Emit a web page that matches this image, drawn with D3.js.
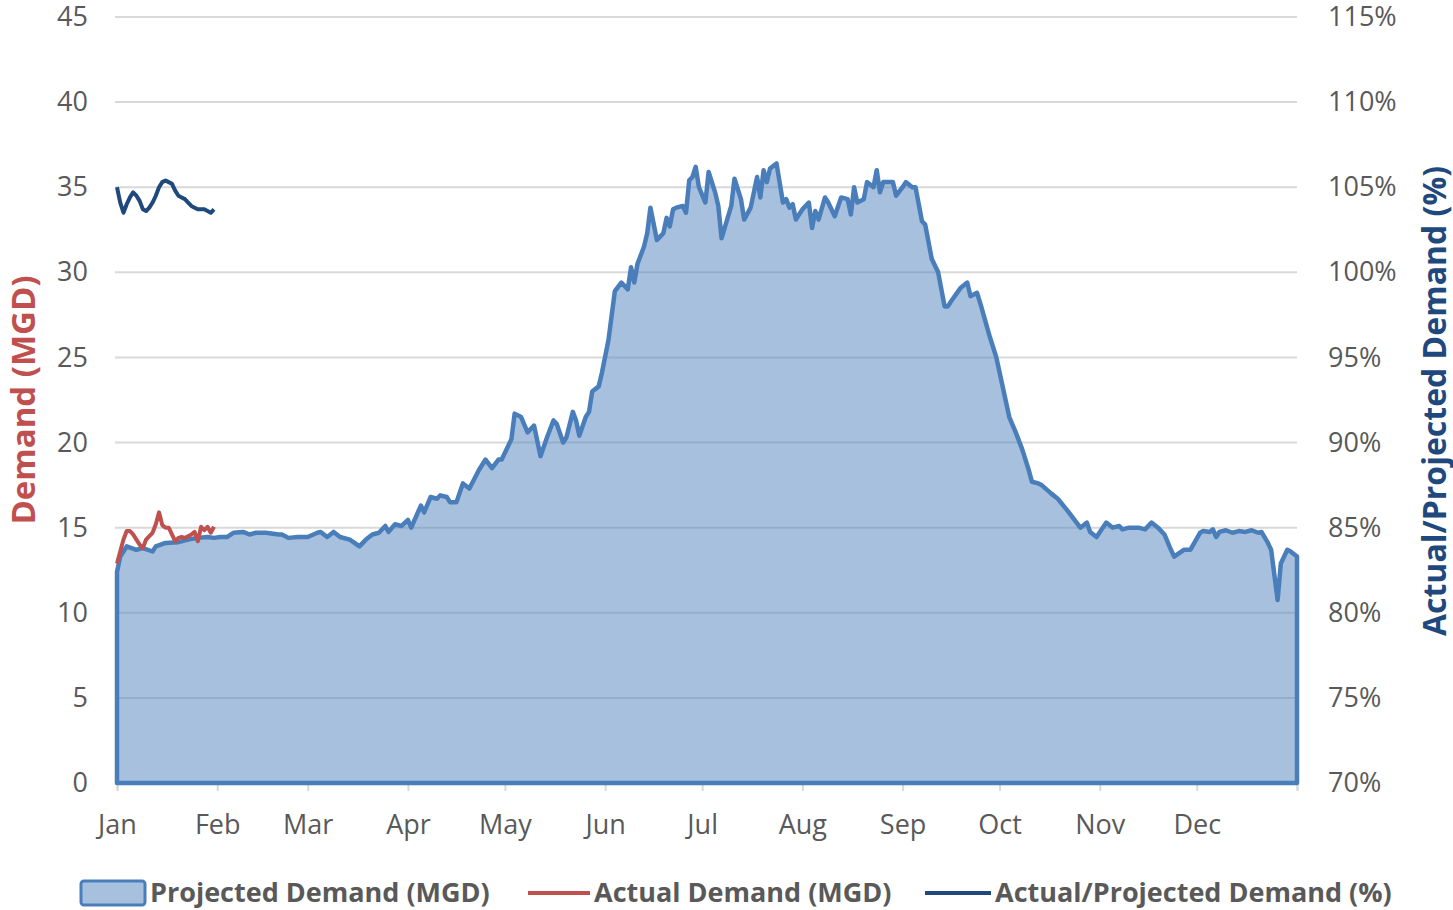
<!DOCTYPE html>
<html>
<head>
<meta charset="utf-8">
<script src="https://cdn.jsdelivr.net/npm/d3@7"></script>
<style>
  body { margin: 0; background: #fff; }
  svg text { font-family: "Open Sans", sans-serif; }
</style>
</head>
<body>
<svg id="chart" width="1453" height="910"></svg>
<script>
// month starts (day of year) and labels
var monthDays = [0, 31, 59, 90, 120, 151, 181, 212, 243, 273, 304, 334, 365];
var monthNames = ["Jan", "Feb", "Mar", "Apr", "May", "Jun", "Jul", "Aug", "Sep", "Oct", "Nov", "Dec"];

// projected demand (MGD), day of year / value
var projDay = [0, 1, 2, 3, 6, 8, 11, 12, 15, 19, 22, 25, 28, 30, 32, 34, 36, 39, 41, 43, 46, 50, 51, 53, 56, 59,
  62, 63, 65, 67, 69, 72, 75, 77, 79, 81, 83, 84, 86, 88, 90, 91, 94, 95, 97, 99, 100, 102, 103, 105, 107, 109,
  112, 114, 116, 118, 119, 122, 123, 125, 127, 129, 131, 133, 135, 136, 138, 139, 141, 142, 143, 145, 146, 147,
  149, 150, 152, 154, 156, 158, 159, 160, 161, 163, 164, 165, 167, 168, 169, 170, 171, 172, 173, 175, 176, 177,
  178, 179, 180, 182, 183, 185, 186, 187, 190, 191, 193, 194, 196, 198, 199, 200, 201, 202, 204, 206, 207, 208,
  209, 210, 212, 214, 215, 216, 217, 219, 220, 222, 224, 226, 227, 228, 229, 231, 232, 234, 235, 236, 237, 240,
  241, 243, 244, 246, 247, 249, 250, 252, 254, 256, 257, 258, 261, 263, 264, 266, 267, 270, 272, 276, 278, 280,
  282, 283, 285, 286, 289, 291, 294, 296, 298, 300, 301, 303, 306, 308, 310, 311, 313, 316, 318, 320, 322, 324,
  326, 327, 330, 332, 335, 336, 338, 339, 340, 341, 343, 345, 347, 349, 351, 353, 354, 356, 357, 359, 360, 362,
  363, 365];
var projMGD = [12.4, 13.3, 13.6, 13.9, 13.7, 13.8, 13.6, 13.9, 14.1, 14.15, 14.3, 14.4, 14.45, 14.4, 14.45, 14.45,
  14.7, 14.75, 14.6, 14.7, 14.7, 14.6, 14.6, 14.4, 14.45, 14.45, 14.7, 14.75, 14.45, 14.75, 14.45, 14.3, 13.9,
  14.3, 14.6, 14.7, 15.1, 14.75, 15.2, 15.1, 15.45, 15.0, 16.3, 15.9, 16.8, 16.7, 16.9, 16.8, 16.5, 16.5, 17.6,
  17.3, 18.4, 19.0, 18.5, 19.0, 19.0, 20.2, 21.7, 21.5, 20.6, 21.0, 19.2, 20.3, 21.3, 21.1, 20.0, 20.3, 21.8,
  21.3, 20.4, 21.5, 21.8, 23.0, 23.3, 24.1, 26.0, 28.9, 29.4, 29.0, 30.3, 29.4, 30.5, 31.5, 32.3, 33.8, 31.9,
  32.1, 32.3, 33.2, 32.7, 33.7, 33.8, 33.9, 33.5, 35.4, 35.6, 36.2, 35.0, 34.1, 35.9, 34.7, 33.9, 32.0, 33.9,
  35.5, 34.3, 33.1, 33.8, 35.6, 34.4, 36.0, 35.3, 36.1, 36.4, 34.1, 34.3, 33.8, 34.0, 33.1, 33.7, 34.1, 32.6,
  33.6, 33.1, 34.4, 34.1, 33.3, 34.4, 34.3, 33.4, 35.0, 34.1, 34.3, 35.3, 35.0, 36.0, 34.7, 35.3, 35.3, 34.5,
  35.0, 35.3, 35.0, 35.0, 33.0, 32.8, 30.8, 30.0, 28.0, 28.0, 28.3, 29.1, 29.4, 28.6, 28.8, 28.2, 26.2, 25.0,
  21.5, 20.6, 19.6, 18.4, 17.7, 17.6, 17.5, 17.0, 16.7, 16.0, 15.5, 15.0, 15.3, 14.75, 14.45, 15.3, 15.0, 15.1,
  14.9, 15.0, 15.0, 14.9, 15.3, 15.0, 14.6, 13.7, 13.3, 13.7, 13.7, 14.7, 14.8, 14.75, 14.9, 14.45, 14.75, 14.85,
  14.7, 14.8, 14.75, 14.85, 14.7, 14.75, 14.1, 13.7, 10.75, 12.9, 13.7, 13.6, 13.3];

// actual demand (MGD), daily from Jan 1
var actualMGD = [12.9, 13.6, 14.3, 14.8, 14.8, 14.6, 14.3, 14.0, 13.8, 14.3, 14.5, 14.7, 15.2, 15.9, 15.15, 15.0,
  15.0, 14.6, 14.2, 14.4, 14.45, 14.4, 14.5, 14.6, 14.75, 14.2, 15.05, 14.85, 15.05, 14.7, 15.05];

// actual / projected (%), daily from Jan 1
var ratioPct = [105.0, 104.1, 103.5, 104.0, 104.4, 104.7, 104.5, 104.2, 103.7, 103.6, 103.8, 104.1, 104.5, 105.0,
  105.3, 105.4, 105.3, 105.2, 104.8, 104.5, 104.4, 104.3, 104.1, 103.9, 103.8, 103.7, 103.7, 103.7, 103.6, 103.5, 103.7];

var leftTicks = [0, 5, 10, 15, 20, 25, 30, 35, 40, 45];
var rightTicks = [70, 75, 80, 85, 90, 95, 100, 105, 110, 115];

var svg = d3.select("#chart"),
    plotLeft = 117, plotRight = 1297, plotTop = 17, plotBottom = 783;

var x = d3.scaleLinear().domain([0, 365]).range([plotLeft, plotRight]);
var y = d3.scaleLinear().domain([0, 45]).range([plotBottom, plotTop]);
var y2 = d3.scaleLinear().domain([70, 115]).range([plotBottom, plotTop]);

var proj = projDay.map(function(d, i) { return {day: d, v: projMGD[i]}; });
var actual = actualMGD.map(function(v, i) { return {day: i, v: v}; });
var ratio = ratioPct.map(function(v, i) { return {day: i, v: v}; });

// gridlines
svg.append("g")
  .selectAll("line")
  .data(leftTicks.slice(1))
  .enter()
  .append("line")
  .attr("x1", plotLeft - 2).attr("x2", plotRight)
  .attr("y1", function(d) { return y(d); })
  .attr("y2", function(d) { return y(d); })
  .attr("stroke", "#d9d9d9")
  .attr("stroke-width", 2);

// left axis labels
var yAxis = svg.append("g")
  .attr("transform", "translate(" + (plotLeft - 29) + ",0)")
  .call(d3.axisLeft(y).tickValues(leftTicks).tickSize(0).tickPadding(0));
yAxis.select(".domain").remove();
yAxis.selectAll("text").attr("font-size", 27).attr("fill", "#595959");

// right axis labels
var yAxis2 = svg.append("g")
  .attr("transform", "translate(" + (plotRight + 31) + ",0)")
  .call(d3.axisRight(y2).tickValues(rightTicks).tickSize(0).tickPadding(0)
    .tickFormat(function(d) { return d + "%"; }));
yAxis2.select(".domain").remove();
yAxis2.selectAll("text").attr("font-size", 27).attr("fill", "#595959");

// x axis
var xAxis = svg.append("g")
  .attr("transform", "translate(0," + plotBottom + ")")
  .call(d3.axisBottom(x).tickValues(monthDays).tickSize(8).tickPadding(24)
    .tickFormat(function(d, i) { return monthNames[i] || ""; }));
xAxis.select(".domain").attr("stroke", "#d9d9d9").attr("stroke-width", 2);
xAxis.selectAll("line").attr("stroke", "#d9d9d9").attr("stroke-width", 2);
xAxis.selectAll("text").attr("font-size", 27).attr("fill", "#595959");

// projected area
var area = d3.area()
  .x(function(d) { return x(d.day); })
  .y0(y(0))
  .y1(function(d) { return y(d.v); });

svg.append("path")
  .datum(proj)
  .attr("d", area)
  .attr("fill", "#4f81bd")
  .attr("fill-opacity", 0.5)
  .attr("stroke", "#4a7ebb")
  .attr("stroke-width", 4.5)
  .attr("stroke-linejoin", "round");

var line = d3.line()
  .x(function(d) { return x(d.day); })
  .y(function(d) { return y(d.v); });

var line2 = d3.line()
  .x(function(d) { return x(d.day); })
  .y(function(d) { return y2(d.v); });

svg.append("path")
  .datum(actual)
  .attr("d", line)
  .attr("fill", "none")
  .attr("stroke", "#c0504d")
  .attr("stroke-width", 4)
  .attr("stroke-linejoin", "round");

svg.append("path")
  .datum(ratio)
  .attr("d", line2)
  .attr("fill", "none")
  .attr("stroke", "#1f497d")
  .attr("stroke-width", 4)
  .attr("stroke-linejoin", "round");

// axis titles
svg.append("text")
  .attr("transform", "translate(35," + 400 + ") rotate(-90)")
  .attr("text-anchor", "middle")
  .attr("font-size", 33)
  .attr("font-weight", "bold")
  .attr("fill", "#c0504d")
  .text("Demand (MGD)");

svg.append("text")
  .attr("transform", "translate(1446," + 401 + ") rotate(-90)")
  .attr("text-anchor", "middle")
  .attr("font-size", 32)
  .attr("font-weight", "bold")
  .attr("fill", "#1f497d")
  .text("Actual/Projected Demand (%)");

// legend
var legY = 893;
var leg = svg.append("g").attr("font-size", 27).attr("font-weight", "bold").attr("fill", "#595959");

leg.append("rect")
  .attr("x", 81).attr("y", legY - 12).attr("width", 64).attr("height", 24).attr("rx", 3)
  .attr("fill", "#a7c0de").attr("stroke", "#4a7ebb").attr("stroke-width", 3);
leg.append("text").attr("x", 150).attr("y", legY).attr("dy", "0.35em").text("Projected Demand (MGD)");

leg.append("line").attr("x1", 528).attr("x2", 590).attr("y1", legY).attr("y2", legY)
  .attr("stroke", "#c0504d").attr("stroke-width", 4);
leg.append("text").attr("x", 594).attr("y", legY).attr("dy", "0.35em").text("Actual Demand (MGD)");

leg.append("line").attr("x1", 925).attr("x2", 991).attr("y1", legY).attr("y2", legY)
  .attr("stroke", "#1f497d").attr("stroke-width", 4);
leg.append("text").attr("x", 995).attr("y", legY).attr("dy", "0.35em").text("Actual/Projected Demand (%)");
</script>
</body>
</html>
